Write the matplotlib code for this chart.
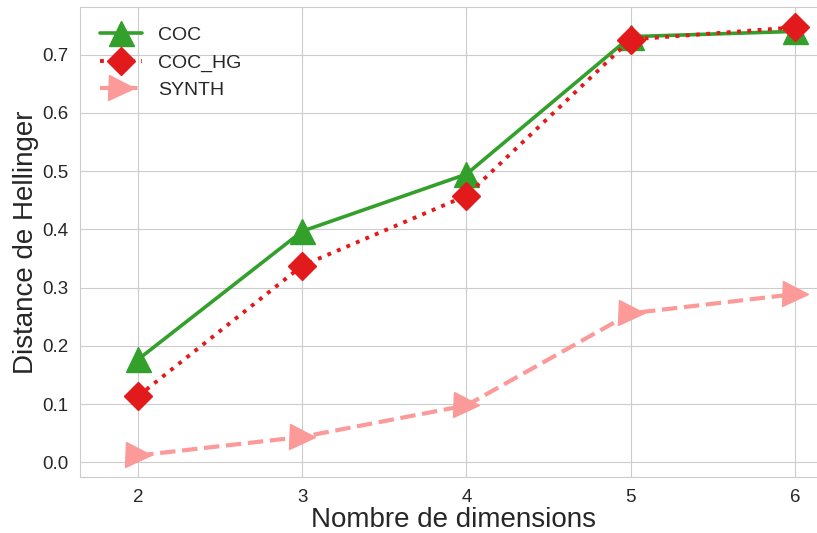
import matplotlib
matplotlib.use("Agg")
import matplotlib.pyplot as plt
import seaborn as sns

# data
dims = [2, 3, 4, 5, 6]
coc = [0.177, 0.397, 0.495, 0.731, 0.740]
coc_hg = [0.114, 0.338, 0.458, 0.726, 0.747]
synth = [0.012, 0.044, 0.098, 0.256, 0.289]

sns.set_style("whitegrid")
plt.rcParams['font.family'] = ['Liberation Sans', 'DejaVu Sans']

pal = sns.color_palette("Paired")

fig = plt.figure(figsize=(8.17, 5.33), dpi=100)
ax = fig.add_axes([0.098, 0.105, 0.915, 0.882])

ax.plot(dims, coc, '-^', color=pal[3], lw=2.6, ms=18, label='COC')
ax.plot(dims, coc_hg, ':D', color=pal[5], lw=2.8, ms=14.5, label='COC_HG')
ax.plot(dims, synth, '-->', color=pal[4], lw=3, ms=18, label='SYNTH')

ax.set_xlim(1.646, 6.2)
ax.set_ylim(-0.025, 0.782)
ax.set_xticks(dims)
ax.tick_params(labelsize=13.5, pad=5)

ax.set_xlabel('Nombre de dimensions', fontsize=20, labelpad=1)
ax.set_ylabel('Distance de Hellinger', fontsize=20, labelpad=2)

ax.legend(loc='upper left', fontsize=14, frameon=False, borderaxespad=0.6,
          handlelength=2.2)

fig.savefig('out.png', dpi=100)
